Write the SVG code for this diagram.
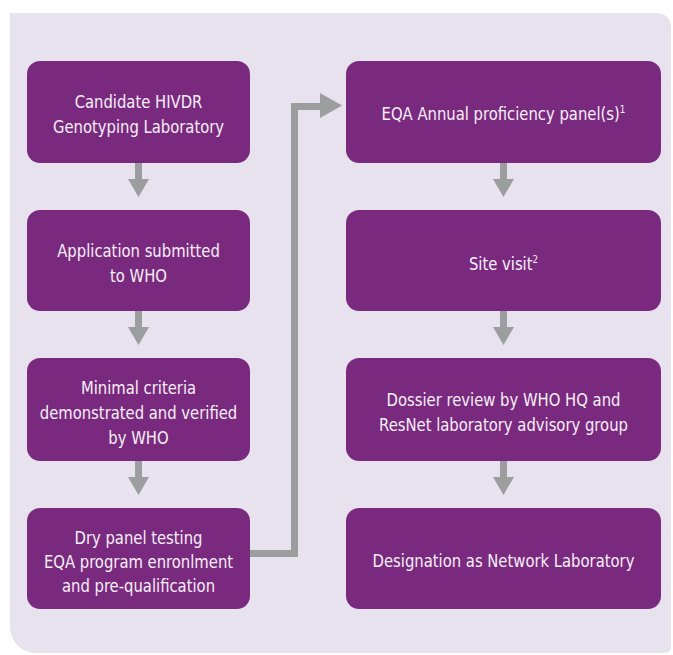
<svg xmlns="http://www.w3.org/2000/svg" width="673" height="655" viewBox="0 0 673 655">
  <style>
    .box { fill: #7a2a7e; }
    .t { fill: #f6eff7; font-family: "DejaVu Sans Condensed", "Liberation Sans", sans-serif; font-size: 18.5px; text-anchor: middle; }
    .sup { font-size: 11px; }
    .arr { fill: #9b9d9f; }
    .line { fill: none; stroke: #9b9d9f; stroke-width: 7; }
  </style>
  <rect width="673" height="655" fill="#ffffff"/>
  <path d="M10,13 H657 A14,14 0 0 1 671,27 V647 A6,6 0 0 1 665,653 H36 A26,26 0 0 1 10,627 Z" fill="#e8e1ee"/>

  <g id="connectors">
    <polygon class="arr" points="135,163 142,163 142,179 149,179 138.5,197 128,179 135,179"/>
    <polygon class="arr" points="135,311 142,311 142,327 149,327 138.5,345 128,327 135,327"/>
    <polygon class="arr" points="135,461 142,461 142,477 149,477 138.5,495 128,477 135,477"/>
    <polygon class="arr" points="500,163 507,163 507,179 514,179 503.5,197 493,179 500,179"/>
    <polygon class="arr" points="500,311 507,311 507,327 514,327 503.5,345 493,327 500,327"/>
    <polygon class="arr" points="500,461 507,461 507,477 514,477 503.5,495 493,477 500,477"/>
    <path class="line" d="M250,553.5 H294.5 V106.5 H321"/>
    <polygon class="arr" points="320,93 342,105.5 320,118"/>
  </g>

  <g id="n1">
    <rect class="box" x="27" y="61" width="223" height="102" rx="13"/>
    <g transform="translate(138.5 0) scale(0.89 1)">
      <text class="t" x="0" y="108">Candidate HIVDR</text>
      <text class="t" x="0" y="133">Genotyping Laboratory</text>
    </g>
  </g>
  <g id="n2">
    <rect class="box" x="27" y="210" width="223" height="101" rx="13"/>
    <g transform="translate(138.5 0) scale(0.89 1)">
      <text class="t" x="0" y="257">Application submitted</text>
      <text class="t" x="0" y="282">to WHO</text>
    </g>
  </g>
  <g id="n3">
    <rect class="box" x="27" y="358" width="223" height="103" rx="13"/>
    <g transform="translate(138.5 0) scale(0.89 1)">
      <text class="t" x="0" y="394">Minimal criteria</text>
      <text class="t" x="0" y="419">demonstrated and verified</text>
      <text class="t" x="0" y="444">by WHO</text>
    </g>
  </g>
  <g id="n4">
    <rect class="box" x="27" y="508" width="223" height="101" rx="13"/>
    <g transform="translate(138.5 0) scale(0.89 1)">
      <text class="t" x="0" y="544">Dry panel testing</text>
      <text class="t" x="0" y="568">EQA program enronlment</text>
      <text class="t" x="0" y="592">and pre-qualification</text>
    </g>
  </g>

  <g id="n5">
    <rect class="box" x="346" y="61" width="315" height="102" rx="13"/>
    <g transform="translate(503.5 0) scale(0.89 1)">
      <text class="t" x="0" y="120">EQA Annual proficiency panel(s)<tspan class="sup" dy="-7">1</tspan></text>
    </g>
  </g>
  <g id="n6">
    <rect class="box" x="346" y="210" width="315" height="101" rx="13"/>
    <g transform="translate(503.5 0) scale(0.89 1)">
      <text class="t" x="0" y="270">Site visit<tspan class="sup" dy="-7">2</tspan></text>
    </g>
  </g>
  <g id="n7">
    <rect class="box" x="346" y="358" width="315" height="103" rx="13"/>
    <g transform="translate(503.5 0) scale(0.89 1)">
      <text class="t" x="0" y="406">Dossier review by WHO HQ and</text>
      <text class="t" x="0" y="431">ResNet laboratory advisory group</text>
    </g>
  </g>
  <g id="n8">
    <rect class="box" x="346" y="508" width="315" height="101" rx="13"/>
    <g transform="translate(503.5 0) scale(0.89 1)">
      <text class="t" x="0" y="567">Designation as Network Laboratory</text>
    </g>
  </g>
</svg>
